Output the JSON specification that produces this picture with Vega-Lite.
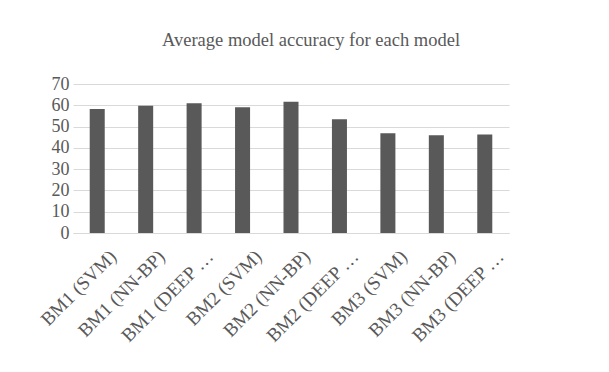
{
  "$schema": "https://vega.github.io/schema/vega-lite/v6.json",
  "autosize": "none",
  "width": 436,
  "height": 149,
  "padding": {"left": 73, "top": 84, "right": 100, "bottom": 139},
  "background": "white",
  "title": {
    "text": "Average model accuracy for each model",
    "font": "Liberation Serif",
    "fontSize": 18.5,
    "fontWeight": "normal",
    "color": "#595959",
    "anchor": "middle",
    "dx": 20,
    "offset": 26
  },
  "data": {
    "values": [
      {"model": "BM1 (SVM)", "accuracy": 58.3},
      {"model": "BM1 (NN-BP)", "accuracy": 59.8},
      {"model": "BM1 (DEEP LEARNING)", "accuracy": 60.9},
      {"model": "BM2 (SVM)", "accuracy": 59.1},
      {"model": "BM2 (NN-BP)", "accuracy": 61.7},
      {"model": "BM2 (DEEP LEARNING)", "accuracy": 53.4},
      {"model": "BM3 (SVM)", "accuracy": 46.9},
      {"model": "BM3 (NN-BP)", "accuracy": 45.9},
      {"model": "BM3 (DEEP LEARNING)", "accuracy": 46.3}
    ]
  },
  "mark": {"type": "bar", "color": "#595959"},
  "encoding": {
    "x": {
      "field": "model",
      "type": "nominal",
      "sort": null,
      "scale": {"paddingInner": 0.69, "paddingOuter": 0.345},
      "axis": {
        "title": null,
        "labelAngle": -45,
        "labelAlign": "right",
        "labelBaseline": "middle",
        "labelFont": "Liberation Serif",
        "labelFontSize": 19,
        "labelColor": "#595959",
        "labelPadding": 20,
        "labelOffset": 16,
        "labelExpr": "length(datum.label) > 12 ? substring(datum.label, 0, 10) + '…' : datum.label",
        "labelLimit": 200,
        "ticks": false,
        "domainColor": "#d9d9d9",
        "domainWidth": 1
      }
    },
    "y": {
      "field": "accuracy",
      "type": "quantitative",
      "scale": {"domain": [0, 70]},
      "axis": {
        "title": null,
        "values": [0, 10, 20, 30, 40, 50, 60, 70],
        "labelFont": "Liberation Serif",
        "labelFontSize": 18,
        "labelColor": "#595959",
        "labelPadding": 4,
        "ticks": false,
        "domain": false,
        "gridColor": "#d9d9d9",
        "gridWidth": 1
      }
    }
  },
  "config": {"view": {"stroke": null}}
}
